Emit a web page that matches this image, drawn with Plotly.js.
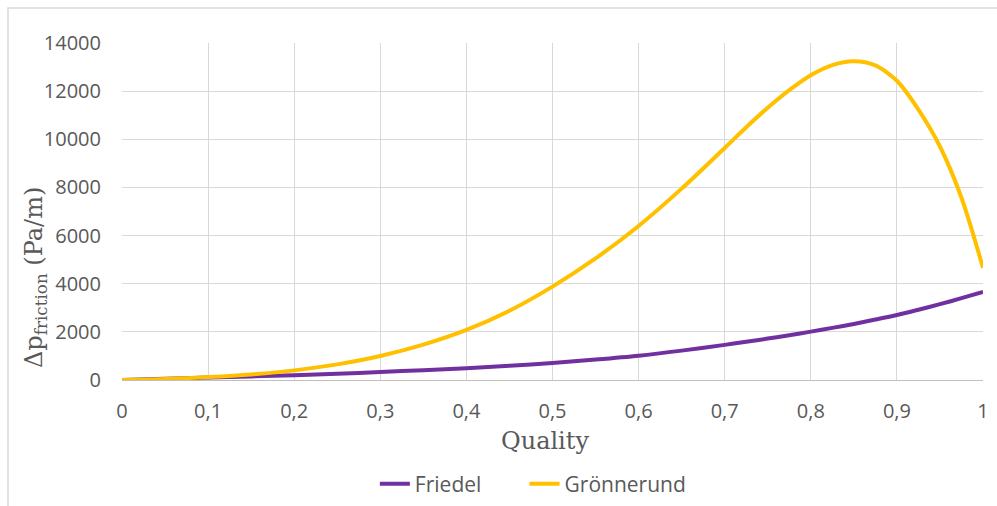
<!DOCTYPE html>
<html>
<head>
<meta charset="utf-8">
<script src="https://cdn.plot.ly/plotly-3.0.1.min.js"></script>
<style>html,body{margin:0;padding:0;background:#fff;}#chart{width:997px;height:506px;}</style>
</head>
<body>
<div id="chart"></div>
<script>
const quality = [0, 0.05, 0.1, 0.15, 0.2, 0.25, 0.3, 0.35, 0.4, 0.45, 0.5, 0.55, 0.6, 0.65, 0.7, 0.725, 0.75, 0.775, 0.8, 0.825, 0.85, 0.875, 0.9, 0.925, 0.95, 0.975, 1.0];
const friedel = [0, 50, 100, 150, 200, 260, 330, 410, 490, 590, 710, 850, 1010, 1220, 1460, 1590, 1720, 1860, 2010, 2165, 2330, 2510, 2700, 2920, 3150, 3400, 3660];
const gronnerund = [0, 40, 120, 230, 400, 650, 1000, 1470, 2080, 2880, 3880, 5050, 6400, 7950, 9640, 10500, 11310, 12040, 12660, 13080, 13240, 13070, 12430, 11230, 9700, 7570, 4660];
const seriesNames = ['Friedel', 'Grönnerund'];
const xTicks = [0, 0.1, 0.2, 0.3, 0.4, 0.5, 0.6, 0.7, 0.8, 0.9, 1];
const yTicks = [0, 2000, 4000, 6000, 8000, 10000, 12000, 14000];

const NBSP = '\u00A0';
const traces = [
  {x: quality, y: friedel, name: seriesNames[0] + NBSP.repeat(7), mode: 'lines',
   line: {color: '#7030a0', width: 4, shape: 'spline', smoothing: 0.8}},
  {x: quality, y: gronnerund, name: seriesNames[1], mode: 'lines',
   line: {color: '#ffc000', width: 4, shape: 'spline', smoothing: 0.8}}
];

const tickFont = {family: 'Open Sans, sans-serif', size: 20, color: '#595959'};
const legendFont = {family: 'Open Sans, sans-serif', size: 21, color: '#595959'};
const titleFont = {family: 'DejaVu Serif, serif', size: 24, color: '#595959'};
const layout = {
  width: 997, height: 506,
  margin: {l: 122, r: 14, t: 43, b: 126},
  paper_bgcolor: '#fff', plot_bgcolor: '#fff',
  separators: ', ',
  showlegend: true,
  legend: {orientation: 'h', xref: 'container', yref: 'container',
           x: 0.376, xanchor: 'left', y: 1 - 484 / 506, yanchor: 'middle',
           font: legendFont},
  xaxis: {range: [0, 1], tickvals: xTicks, ticktext: xTicks.map(v => String(v).replace('.', ',')),
          showgrid: true, gridcolor: '#d9d9d9', gridwidth: 1,
          zeroline: false, showline: true, linecolor: '#bfbfbf', linewidth: 1,
          ticks: '', ticklabelstandoff: 13,
          tickfont: tickFont, automargin: false},
  yaxis: {range: [0, 14000], tickvals: yTicks, ticktext: yTicks.map(String),
          showgrid: true, gridcolor: '#d9d9d9', gridwidth: 1,
          zeroline: false, showline: false, ticks: '', ticklabelstandoff: 20,
          tickfont: tickFont, automargin: false},
  annotations: [
    {text: 'Quality', xref: 'paper', yref: 'paper', x: (545 - 122) / 861, y: (380 - 441) / 337,
     xanchor: 'center', yanchor: 'middle', showarrow: false, font: titleFont},
    {text: 'Δp<sub>friction</sub> (Pa/m)', xref: 'paper', yref: 'paper',
     x: (35 - 122) / 861, y: (380 - 278) / 337, textangle: -90,
     xanchor: 'center', yanchor: 'middle', showarrow: false, font: titleFont}
  ],
  shapes: [
    {type: 'rect', xref: 'paper', yref: 'paper', x0: -0.1324, x1: 1.08, y0: -0.5, y1: 1.1039,
     line: {color: '#d9d9d9', width: 1.5}, fillcolor: 'rgba(0,0,0,0)', layer: 'below'}
  ]
};

Plotly.newPlot('chart', traces, layout, {displayModeBar: false, staticPlot: true});
</script>
</body>
</html>
